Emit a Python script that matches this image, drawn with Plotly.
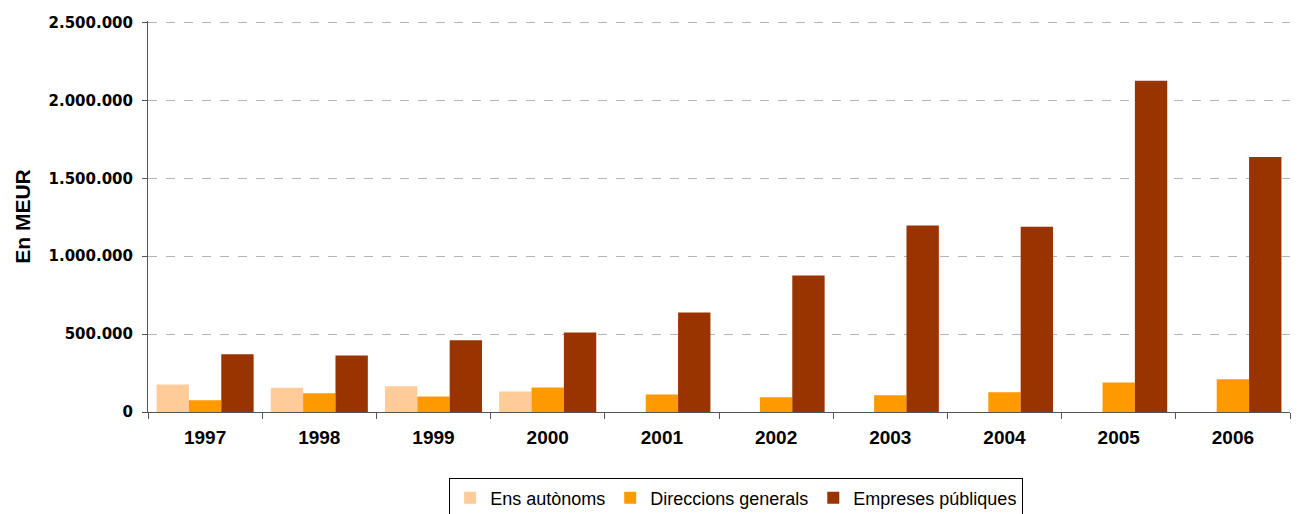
import plotly.graph_objects as go

# Dades (en MEUR)
anys = ["1997", "1998", "1999", "2000", "2001", "2002", "2003", "2004", "2005", "2006"]
ens_autonoms = [177000, 156000, 165000, 131000, None, None, None, None, None, None]
direccions_generals = [75000, 120000, 100000, 158000, 113000, 94000, 107000, 126000, 190000, 210000]
empreses_publiques = [370000, 363000, 460000, 511000, 639000, 876000, 1197000, 1190000, 2126000, 1637000]

y_ticks = [0, 500000, 1000000, 1500000, 2000000, 2500000]

fig = go.Figure()

fig.add_trace(go.Bar(x=anys, y=ens_autonoms, name="Ens autònoms",
                     marker=dict(color="#FFCC99", line=dict(width=0))))
fig.add_trace(go.Bar(x=anys, y=direccions_generals, name="Direccions generals",
                     marker=dict(color="#FF9900", line=dict(width=0))))
fig.add_trace(go.Bar(x=anys, y=empreses_publiques, name="Empreses públiques",
                     marker=dict(color="#993300", line=dict(width=0))))

fig.update_layout(
    width=1301, height=514,
    margin=dict(l=148, r=11, t=21, b=102, autoexpand=False),
    paper_bgcolor="white",
    plot_bgcolor="white",
    separators=",.",
    barmode="group",
    bargap=0.15,
    bargroupgap=0,
    font=dict(family="Liberation Sans, Arial", color="black"),
    legend=dict(
        orientation="h",
        x=0.515, xanchor="center",
        y=-0.17, yanchor="top",
        bordercolor="black", borderwidth=1,
        font=dict(size=18),
        itemwidth=30,
        tracegroupgap=0,
    ),
    showlegend=True,
)

fig.update_xaxes(
    type="category",
    automargin=False,
    showline=True, linecolor="#555555", linewidth=1,
    ticks="outside", tickson="boundaries", ticklen=6, tickcolor="#555555",
    tickfont=dict(size=19, weight="bold"),
    ticklabelstandoff=8,
    showgrid=False,
)

fig.update_yaxes(
    automargin=False,
    range=[0, 2510000],
    tickvals=y_ticks,
    tickformat=",d",
    showline=True, linecolor="#555555", linewidth=1,
    ticks="outside", ticklen=5, tickcolor="#555555",
    tickfont=dict(size=15, weight="bold", family="DejaVu Sans"),
    ticklabelstandoff=6,
    showgrid=True, gridcolor="#b4b4b4", griddash="dash", gridwidth=1,
    zeroline=False,
    title=dict(text="En MEUR", font=dict(size=21, weight="bold"), standoff=12),
)

# sense marge al body perquè la figura ocupi tota la finestra
fig.write_html("out.html", config={"displayModeBar": False},
               post_script="document.body.style.margin='0';")
